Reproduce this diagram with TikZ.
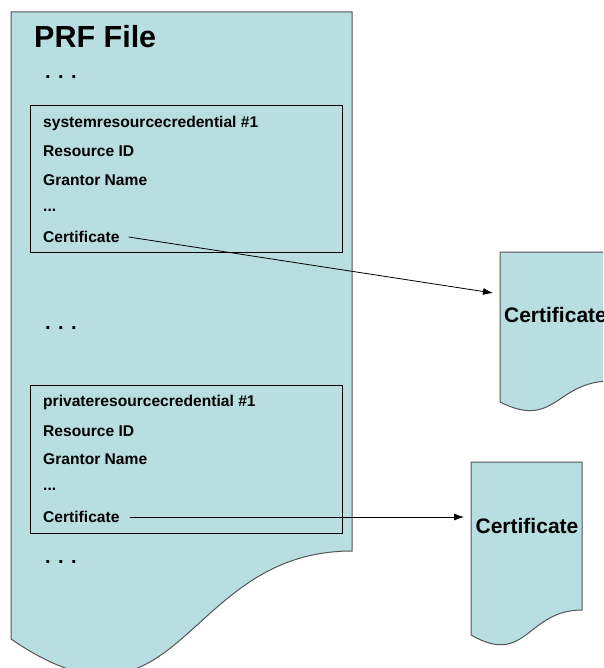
\documentclass[tikz,border=0pt]{standalone}
\usepackage{fontspec}
\setmainfont{Liberation Sans}
\usetikzlibrary{arrows.meta}
\definecolor{docfill}{RGB}{184,222,226}
\definecolor{docline}{RGB}{85,85,85}
\begin{document}
\begin{tikzpicture}[x=1pt,y=-1pt,
  docshape/.style={fill=docfill,draw=docline,line width=1pt},
  recbox/.style={draw=black,line width=0.9pt,inner sep=0pt,anchor=north west},
  fieldtxt/.style={anchor=west,inner sep=0pt,font=\fontsize{15.6}{18}\selectfont\bfseries},
  certtxt/.style={inner sep=0pt,font=\fontsize{21}{24}\selectfont\bfseries},
  dotstxt/.style={anchor=base west,inner sep=0pt,font=\fontsize{20}{24}\selectfont\bfseries},
  titletxt/.style={anchor=west,inner sep=0pt,font=\fontsize{30.5}{34}\selectfont\bfseries},
  link/.style={draw=black,line width=0.8pt,-{Latex[length=10pt,width=7pt]}}]
\useasboundingbox (0,0) rectangle (603,668);
\clip (0,0) rectangle (603,668);
% main PRF document
\path[docshape] (11,12) -- (352,12) -- (352,551)
  .. controls (181.5,551) and (181.5,756) .. (11,639) -- cycle;
% certificate documents
\path[docshape] (500,252) -- (611,252) -- (611,381)
  .. controls (555.5,381) and (555.5,430) .. (500,402) -- cycle;
\path[docshape] (471,462) -- (582,462) -- (582,610)
  .. controls (526.5,610) and (526.5,667) .. (471,635) -- cycle;

\node[titletxt] (title) at (34,37) {PRF File};
\node[dotstxt] (dotsA) at (45,79) {. . .};
\node[dotstxt] (dotsB) at (45,329) {. . .};
\node[dotstxt] (dotsC) at (45,563) {. . .};

% record boxes
\node[recbox,minimum width=312pt,minimum height=147pt] (rec1) at (30,105) {};
\node[fieldtxt] (r1a) at (43,123) {systemresourcecredential \#1};
\node[fieldtxt] (r1b) at (43,151) {Resource ID};
\node[fieldtxt] (r1c) at (43,180) {Grantor Name};
\node[fieldtxt] (r1d) at (43,210) {...};
\node[fieldtxt] (c1) at (43,237) {Certificate};

\node[recbox,minimum width=312pt,minimum height=148pt] (rec2) at (30,385) {};
\node[fieldtxt] (r2a) at (43,402) {privateresourcecredential \#1};
\node[fieldtxt] (r2b) at (43,431) {Resource ID};
\node[fieldtxt] (r2c) at (43,459) {Grantor Name};
\node[fieldtxt] (r2d) at (43,489) {...};
\node[fieldtxt] (c2) at (43,517) {Certificate};

\node[certtxt] (cert1) at (555.5,315) {Certificate};
\node[certtxt] (cert2) at (527,526) {Certificate};

\coordinate (tip1) at (493,293);
\coordinate (tip2) at (464,517);
\draw[link] ([xshift=9pt]c1.east) -- (tip1);
\draw[link] ([xshift=10pt]c2.east) -- (tip2);
\end{tikzpicture}
\end{document}
